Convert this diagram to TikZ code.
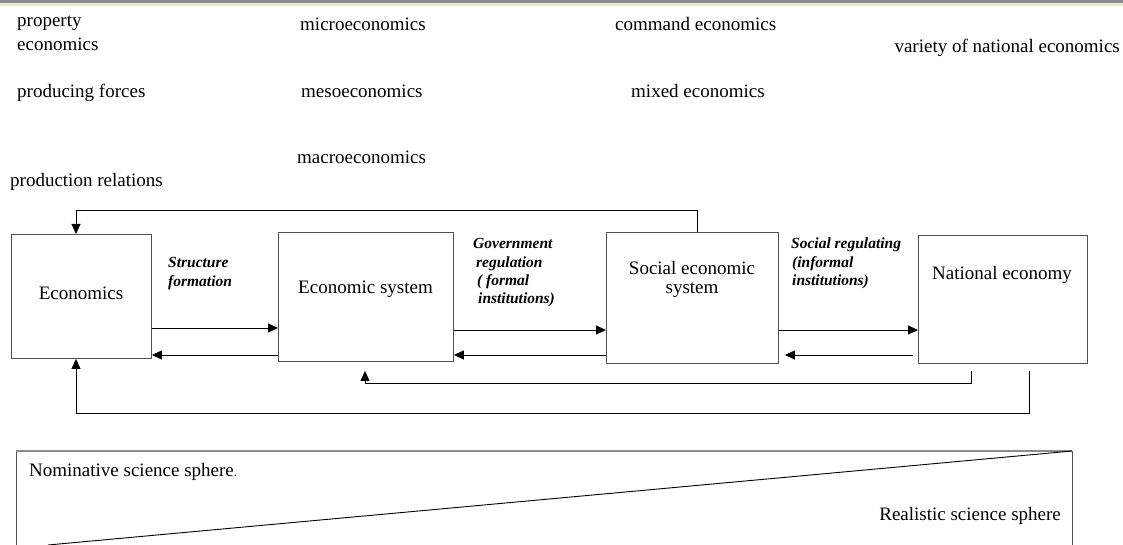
\documentclass[tikz,border=0pt]{standalone}
\usepackage{fontspec}
\setmainfont{Liberation Serif}
\usetikzlibrary{arrows.meta}
\definecolor{barGray}{HTML}{8C8C8C}
\definecolor{barBeige}{HTML}{ECE9D8}
\definecolor{boxLine}{HTML}{505050}
\begin{document}
\begin{tikzpicture}[x=1pt,y=-1pt,
  txt/.style={anchor=base west, inner sep=0pt, font=\fontsize{19}{22}\selectfont},
  lbl/.style={anchor=base west, inner sep=0pt, font=\fontsize{15.5}{18.5}\selectfont\bfseries\itshape},
  blk/.style={draw=boxLine, line width=0.9pt, inner sep=0pt, anchor=north west},
  arr/.style={draw=black, line width=0.9pt, -{Triangle[length=10pt,width=9pt]}}]
\useasboundingbox (0,0) rectangle (1123,545);

% window bar along the top
\fill[barGray] (0,0) rectangle (1123,3.5);
\fill[barBeige] (0,3.5) rectangle (1123,6);

% top row of terms
\node[txt] (t1) at (17,27) {property};
\node[txt] (t2) at (17,51) {economics};
\node[txt] (t3) at (300,31) {microeconomics};
\node[txt] (t4) at (615,31) {command economics};
\node[txt, anchor=base east] (t5) at (1120,53) {variety of national economics};
\node[txt] (t6) at (17,98) {producing forces};
\node[txt] (t7) at (301,98) {mesoeconomics};
\node[txt] (t8) at (631,98) {mixed economics};
\node[txt] (t9) at (297,164) {macroeconomics};
\node[txt] (t10) at (10,187) {production relations};

% the four blocks
\node[blk, minimum width=140, minimum height=124] (econ) at (11,234) {};
\node[blk, minimum width=175, minimum height=129] (esys) at (278,232) {};
\node[blk, minimum width=172, minimum height=131] (ssys) at (606,232) {};
\node[blk, minimum width=169, minimum height=128] (nat) at (918,235) {};

\node[txt, anchor=base] (econT) at (81,299) {Economics};
\node[txt, anchor=base] (esysT) at (365.5,293) {Economic system};
\node[txt, anchor=base] (ssysT1) at (692,274) {Social economic};
\node[txt, anchor=base] (ssysT2) at (692,293) {system};
\node[txt, anchor=base] (natT) at (1002,279) {National economy};

% connector labels
\node[lbl] (l1) at (168,267) {Structure};
\node[lbl] (l2) at (168,286) {formation};
\node[lbl] (l3) at (473,248) {Government};
\node[lbl] (l4) at (476,267) {regulation};
\node[lbl] (l5) at (477,285) {( formal};
\node[lbl] (l6) at (478,303) {institutions)};
\node[lbl] (l7) at (791,248) {Social regulating};
\node[lbl] (l8) at (792,267) {(informal};
\node[lbl] (l9) at (792,285) {institutions)};

% forward and backward links between neighbouring blocks
\coordinate (fwdA) at (0,328);
\coordinate (fwdB) at (0,330);
\coordinate (back) at (0,355);
\draw[arr] (econ.east |- fwdA) -- (esys.west |- fwdA);
\draw[arr] (esys.west |- back) -- (econ.east |- back);
\draw[arr] (esys.east |- fwdB) -- (ssys.west |- fwdB);
\draw[arr] (ssys.west |- back) -- (esys.east |- back);
\draw[arr] (ssys.east |- fwdB) -- (nat.west |- fwdB);
\draw[arr, shorten <=5pt, shorten >=6pt] (nat.west |- back) -- (ssys.east |- back);

% feedback loops
\coordinate (topR) at (697,210);
\coordinate (topL) at (76,210);
\draw[arr] (ssys.north -| topR) -- (topR) -- (topL) -- (econ.north -| topL);

\coordinate (b1R) at (971,383);
\coordinate (b1L) at (365,383);
\draw[arr, shorten <=7pt, shorten >=9pt] (nat.south -| b1R) -- (b1R) -- (b1L) -- (esys.south -| b1L);

\coordinate (b2R) at (1029,413);
\coordinate (b2L) at (76,413);
\draw[arr, shorten <=7pt] (nat.south -| b2R) -- (b2R) -- (b2L) -- (econ.south -| b2L);

% science spheres panel
\coordinate (pTL) at (16,451);
\coordinate (pTR) at (1072,451);
\draw[boxLine, line width=0.9pt] (16,545) -- (pTL);
\draw[boxLine, line width=0.9pt] (1072,545) -- (pTR);
\draw[black!45, line width=1.2pt] (pTL) -- (pTR);
\draw[black, line width=0.9pt] (pTR) -- (48,545);
\node[txt] (nom) at (29,476) {Nominative science sphere{\fontsize{12}{14}\selectfont.}};
\node[txt, anchor=base east] (real) at (1061,520) {Realistic science sphere};
\end{tikzpicture}
\end{document}
